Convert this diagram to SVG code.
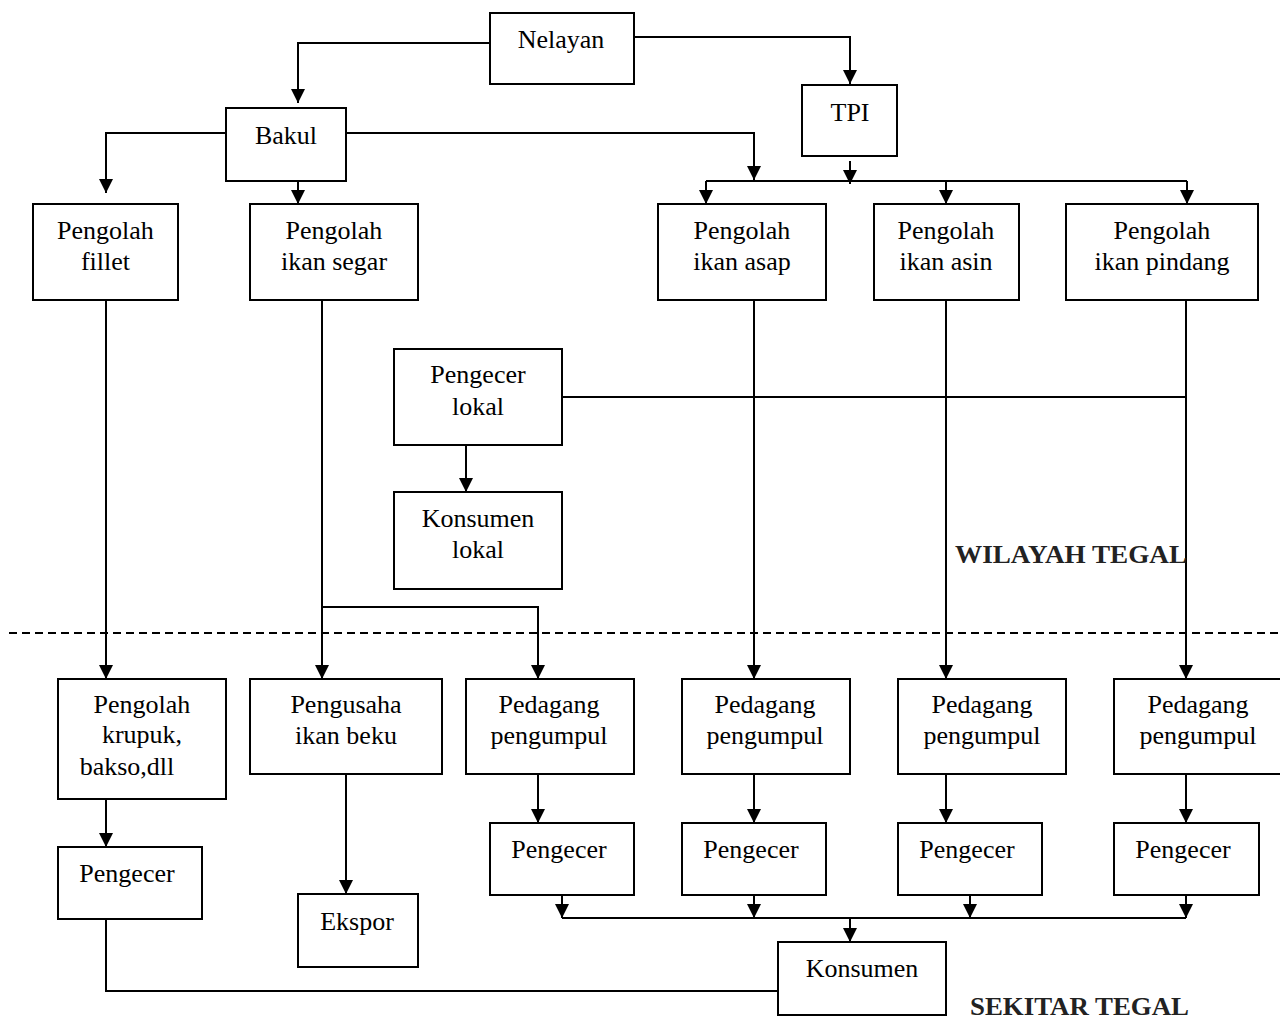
<svg xmlns="http://www.w3.org/2000/svg" width="1280" height="1019" viewBox="0 0 1280 1019">
<style>
.box{fill:#fff;stroke:#000;stroke-width:2}
.t{font-family:"Liberation Serif","Times New Roman",serif;font-size:26px;fill:#000;text-anchor:middle}
.b{font-family:"Liberation Serif","Times New Roman",serif;font-size:26px;font-weight:bold;fill:#222}
.c{fill:none;stroke:#000;stroke-width:2}
.ca{fill:none;stroke:#000;stroke-width:2;marker-end:url(#ah)}
</style>
<defs>
<marker id="ah" markerUnits="userSpaceOnUse" markerWidth="14" markerHeight="14" refX="14" refY="7" orient="auto">
<path d="M0,0 L14,7 L0,14 z" fill="#000"/>
</marker>
</defs>
<rect width="1280" height="1019" fill="#fff"/>
<g id="connectors">
<path class="ca" d="M489,43 H298 V103"/>
<path class="ca" d="M634,37 H850 V84"/>
<path class="ca" d="M346,133 H754 V180"/>
<path class="ca" d="M850,161 V184"/>
<path class="c" d="M706,181 H1187"/>
<path class="ca" d="M706,181 V204"/>
<path class="ca" d="M946,181 V204"/>
<path class="ca" d="M1187,181 V204"/>
<path class="ca" d="M226,133 H106 V193"/>
<path class="ca" d="M298,181 V204"/>
<path class="ca" d="M106,300 V679"/>
<path class="ca" d="M322,300 V679"/>
<path class="ca" d="M322,607 H538 V679"/>
<path class="ca" d="M754,300 V679"/>
<path class="ca" d="M946,300 V679"/>
<path class="ca" d="M1186,300 V679"/>
<path class="c" d="M562,397 H1186"/>
<path class="ca" d="M466,445 V492"/>
<path class="ca" d="M106,799 V847"/>
<path class="ca" d="M346,774 V894"/>
<path class="ca" d="M538,774 V823"/>
<path class="ca" d="M754,774 V823"/>
<path class="ca" d="M946,774 V823"/>
<path class="ca" d="M1186,774 V823"/>
<path class="ca" d="M562,895 V918"/>
<path class="ca" d="M754,895 V918"/>
<path class="ca" d="M970,895 V918"/>
<path class="ca" d="M1186,895 V918"/>
<path class="c" d="M562,918 H1186"/>
<path class="ca" d="M850,918 V942"/>
<path class="c" d="M106,919 V991 H778"/>
<path class="c" d="M9,633 H1280" stroke-dasharray="8 5"/>
</g>
<g id="nelayan"><rect class="box" x="490" y="13" width="144" height="71"/><text class="t" x="561" y="48">Nelayan</text></g>
<g id="bakul"><rect class="box" x="226" y="108" width="120" height="73"/><text class="t" x="286" y="144">Bakul</text></g>
<g id="tpi"><rect class="box" x="802" y="85" width="95" height="71"/><text class="t" x="850" y="121">TPI</text></g>
<g id="pengolah-fillet"><rect class="box" x="33" y="204" width="145" height="96"/><text class="t" x="105.5" y="239">Pengolah</text><text class="t" x="105.5" y="270">fillet</text></g>
<g id="pengolah-segar"><rect class="box" x="250" y="204" width="168" height="96"/><text class="t" x="334" y="239">Pengolah</text><text class="t" x="334" y="270">ikan segar</text></g>
<g id="pengolah-asap"><rect class="box" x="658" y="204" width="168" height="96"/><text class="t" x="742" y="239">Pengolah</text><text class="t" x="742" y="270">ikan asap</text></g>
<g id="pengolah-asin"><rect class="box" x="874" y="204" width="145" height="96"/><text class="t" x="946" y="239">Pengolah</text><text class="t" x="946" y="270">ikan asin</text></g>
<g id="pengolah-pindang"><rect class="box" x="1066" y="204" width="192" height="96"/><text class="t" x="1162" y="239">Pengolah</text><text class="t" x="1162" y="270">ikan pindang</text></g>
<g id="pengecer-lokal"><rect class="box" x="394" y="349" width="168" height="96"/><text class="t" x="478" y="383">Pengecer</text><text class="t" x="478" y="415">lokal</text></g>
<g id="konsumen-lokal"><rect class="box" x="394" y="492" width="168" height="97"/><text class="t" x="478" y="527">Konsumen</text><text class="t" x="478" y="558">lokal</text></g>
<text class="b" x="955" y="563" textLength="232" lengthAdjust="spacingAndGlyphs">WILAYAH TEGAL</text>
<g id="pengolah-krupuk"><rect class="box" x="58" y="679" width="168" height="120"/><text class="t" x="142" y="713">Pengolah</text><text class="t" x="142" y="743">krupuk,</text><text class="t" x="127" y="775">bakso,dll</text></g>
<g id="pengusaha"><rect class="box" x="250" y="679" width="192" height="95"/><text class="t" x="346" y="713">Pengusaha</text><text class="t" x="346" y="744">ikan beku</text></g>
<g id="pedagang-1"><rect class="box" x="466" y="679" width="168" height="95"/><text class="t" x="549" y="713">Pedagang</text><text class="t" x="549" y="744">pengumpul</text></g>
<g id="pedagang-2"><rect class="box" x="682" y="679" width="168" height="95"/><text class="t" x="765" y="713">Pedagang</text><text class="t" x="765" y="744">pengumpul</text></g>
<g id="pedagang-3"><rect class="box" x="898" y="679" width="168" height="95"/><text class="t" x="982" y="713">Pedagang</text><text class="t" x="982" y="744">pengumpul</text></g>
<g id="pedagang-4"><rect class="box" x="1114" y="679" width="168" height="95"/><text class="t" x="1198" y="713">Pedagang</text><text class="t" x="1198" y="744">pengumpul</text></g>
<g id="pengecer-krupuk"><rect class="box" x="58" y="847" width="144" height="72"/><text class="t" x="127" y="882">Pengecer</text></g>
<g id="ekspor"><rect class="box" x="298" y="894" width="120" height="73"/><text class="t" x="357" y="930">Ekspor</text></g>
<g id="pengecer-1"><rect class="box" x="490" y="823" width="144" height="72"/><text class="t" x="559" y="858">Pengecer</text></g>
<g id="pengecer-2"><rect class="box" x="682" y="823" width="144" height="72"/><text class="t" x="751" y="858">Pengecer</text></g>
<g id="pengecer-3"><rect class="box" x="898" y="823" width="144" height="72"/><text class="t" x="967" y="858">Pengecer</text></g>
<g id="pengecer-4"><rect class="box" x="1114" y="823" width="145" height="72"/><text class="t" x="1183" y="858">Pengecer</text></g>
<g id="konsumen"><rect class="box" x="778" y="942" width="168" height="73"/><text class="t" x="862" y="977">Konsumen</text></g>
<text class="b" x="970" y="1015" textLength="219" lengthAdjust="spacingAndGlyphs">SEKITAR TEGAL</text>
</svg>
